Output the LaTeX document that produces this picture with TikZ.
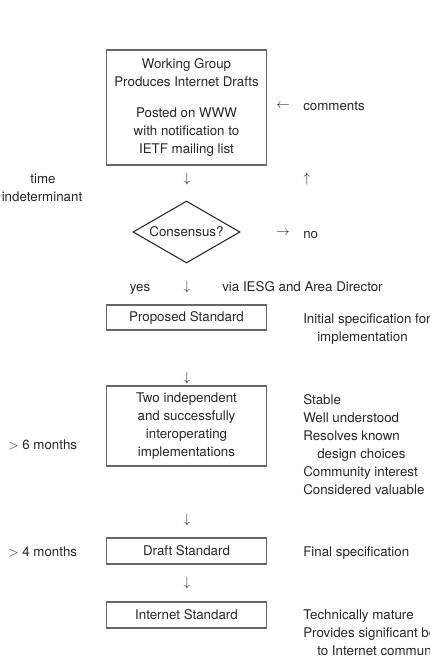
\documentclass[tikz,border=0pt]{standalone}
\usepackage{fontspec}
\setmainfont{TeX Gyre Heros}
\usetikzlibrary{shapes.geometric}
\begin{document}
\begin{tikzpicture}[x=0.75pt,y=-0.75pt,
  every node/.style={font=\fontsize{10}{13.5}\selectfont, text=black!85, inner sep=0pt},
  stagebox/.style={draw=black!60, line width=0.8pt, minimum width=120.5pt, align=center},
  decision/.style={diamond, shape aspect=2, draw=black!85, line width=0.8pt, minimum width=80.25pt, minimum height=46.5pt},
  lbl/.style={anchor=base west},
  mid/.style={anchor=base},
  flow/.style={anchor=center}]
\clip (0,0) rectangle (429,656);

% stages of the standards track
\node[stagebox, minimum height=86.25pt] (wg) at (186.5,107.5)
  {Working Group\\Produces Internet Drafts\\[9.75pt]Posted on WWW\\with notification to\\IETF mailing list};
\node[decision] (cons) at (186.5,232) {Consensus?};
\node[stagebox, minimum height=18.75pt] (ps) at (186.5,317.5) {\raisebox{-1pt}{Proposed Standard}};
\node[stagebox, minimum height=60pt] (impl) at (186.5,426)
  {Two independent\\and successfully\\interoperating\\implementations};
\node[stagebox, minimum height=19.5pt] (ds) at (186.5,551) {Draft Standard};
\node[stagebox, minimum height=19.5pt] (is) at (186.5,615) {Internet Standard};

% flow arrows set as symbols
\node[flow] (a1) at (187,179) {$\downarrow$};
\node[flow] (a2) at (187,287) {$\downarrow$};
\node[flow] (a3) at (187,378) {$\downarrow$};
\node[flow] (a4) at (187,520) {$\downarrow$};
\node[flow] (a5) at (187,583) {$\downarrow$};
\node[flow] (up) at (307,179) {$\uparrow$};
\node[flow] (back) at (283,106) {$\leftarrow$};
\node[flow] (out) at (283,233) {$\rightarrow$};

% feedback loop labels
\node[lbl] (comments) at (303,111) {comments};
\node[lbl] (no) at (303,238) {no};
\node[mid] (yes) at (140,291.5) {yes};
\node[lbl] (via) at (222,291.5) {via IESG and Area Director};

% durations
\node[mid] (t1) at (43,183.5) {time};
\node[mid] (t2) at (42,201.5) {indeterminant};
\node[lbl] (six) at (8,449) {$>$ 6 months};
\node[lbl] (four) at (8,556.5) {$>$ 4 months};

% stage criteria
\node[lbl] (ps1) at (303,323) {Initial specification for};
\node[lbl] (ps2) at (317,341.5) {implementation};
\node[lbl] (c1) at (303,404.5) {Stable};
\node[lbl] (c2) at (303,422) {Well understood};
\node[lbl] (c3) at (303,440) {Resolves known};
\node[lbl] (c4) at (317,458) {design choices};
\node[lbl] (c5) at (303,476) {Community interest};
\node[lbl] (c6) at (303,494) {Considered valuable};
\node[lbl] (ds1) at (303,556.5) {Final specification};
\node[lbl] (is1) at (303,619.5) {Technically mature};
\node[lbl] (is2) at (303,637.5) {Provides significant benefit};
\node[lbl] (is3) at (317,655) {to Internet community};
\end{tikzpicture}
\end{document}
